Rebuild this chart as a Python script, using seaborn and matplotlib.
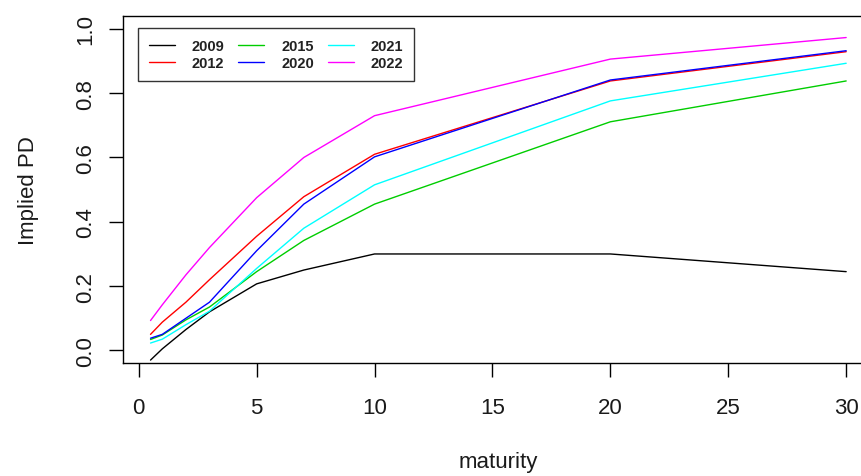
import numpy as np
import pandas as pd
import matplotlib
matplotlib.use("Agg")
import matplotlib.pyplot as plt
import seaborn as sns

maturity = [0.5, 1, 2, 3, 5, 7, 10, 20, 30]
pd2009 = [-0.030, 0.005, 0.065, 0.120, 0.207, 0.250, 0.300, 0.300, 0.245]
pd2012 = [0.050, 0.088, 0.150, 0.220, 0.355, 0.478, 0.610, 0.838, 0.929]
pd2015 = [0.034, 0.048, 0.095, 0.135, 0.245, 0.342, 0.455, 0.711, 0.838]
pd2020 = [0.038, 0.050, 0.100, 0.150, 0.310, 0.455, 0.602, 0.841, 0.932]
pd2021 = [0.023, 0.035, 0.080, 0.122, 0.255, 0.380, 0.515, 0.776, 0.893]
pd2022 = [0.093, 0.142, 0.235, 0.320, 0.475, 0.600, 0.730, 0.906, 0.973]
years = ["2009", "2012", "2015", "2020", "2021", "2022"]
colors = ["black", "red", "#00CD00", "blue", "cyan", "magenta"]

series = [pd2009, pd2012, pd2015, pd2020, pd2021, pd2022]
rows = []
for y, vals in zip(years, series):
    for m, v in zip(maturity, vals):
        rows.append({"maturity": m, "pd": v, "year": y})
df = pd.DataFrame(rows)

sns.set_style("white")
plt.rcParams["font.family"] = ["Liberation Sans", "DejaVu Sans"]

W, H = 861, 477
L, B, T, R = 122.7, 364.3, 17.0, 874.0
fig = plt.figure(figsize=(W/100, H/100), dpi=100)
ax = fig.add_axes([L/W, 1 - B/H, (R-L)/W, (B-T)/H])

sns.lineplot(data=df, x="maturity", y="pd", hue="year", hue_order=years,
             palette=dict(zip(years, colors)), linewidth=1.0, ax=ax,
             estimator=None, sort=True)

ax.set_xlim(-0.68, 31.18)
ax.set_ylim(-0.04, 1.04)
ax.set_xticks([0, 5, 10, 15, 20, 25, 30])
ax.set_yticks([0.0, 0.2, 0.4, 0.6, 0.8, 1.0])
ax.set_yticklabels(["0.0", "0.2", "0.4", "0.6", "0.8", "1.0"], rotation=90, va="center")
ax.tick_params(axis="both", direction="out", length=10, width=1, color="black",
               labelsize=16, left=True, bottom=True, labelcolor="#1a1a1a")
ax.tick_params(axis="x", pad=14)
ax.tick_params(axis="y", pad=9)
for s in ax.spines.values():
    s.set_color("black")
    s.set_linewidth(1.0)
ax.set_xlabel("maturity", fontsize=16, labelpad=24, color="#1a1a1a")
ax.set_ylabel("Implied PD", fontsize=16, labelpad=26, color="#1a1a1a")

leg = ax.legend(ncol=3, loc="upper left",
                bbox_to_anchor=((138-L)/(R-L), (B-29)/(B-T)),
                prop={"size": 10.5, "weight": "bold"}, frameon=True, fancybox=False,
                handlelength=1.78, columnspacing=0.95, labelspacing=0.2,
                borderpad=0.75, handletextpad=1.16, borderaxespad=0)
leg.get_frame().set_edgecolor("black")
leg.get_frame().set_linewidth(1.0)
for t in leg.get_texts():
    t.set_color("#222222")

fig.savefig("out.png", dpi=100)
